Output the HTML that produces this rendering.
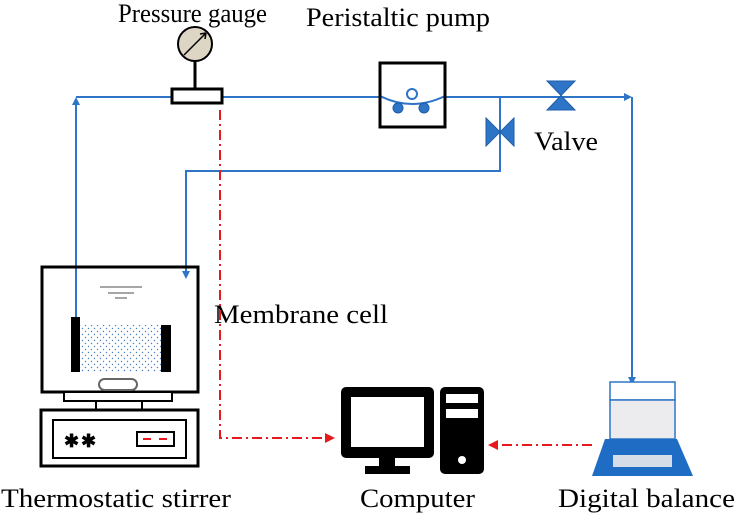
<!DOCTYPE html><html><head><style>body{margin:0;background:#fff}svg{display:block}text{font-family:"Liberation Serif",serif;fill:#000}</style></head><body>
<svg width="738" height="522" viewBox="0 0 738 522" xmlns="http://www.w3.org/2000/svg">
<defs>
<marker id="ab" markerWidth="8" markerHeight="8" refX="6" refY="4" orient="auto" markerUnits="userSpaceOnUse"><path d="M0,0L8,4L0,8z" fill="#2e75c7"/></marker>
<marker id="ar" markerWidth="10" markerHeight="10" refX="8" refY="5" orient="auto" markerUnits="userSpaceOnUse"><path d="M0,0L10,5L0,10z" fill="#e8191c"/></marker>
<pattern id="dots" width="6" height="6" patternUnits="userSpaceOnUse"><circle cx="1.5" cy="1.5" r="0.7" fill="#4a7cc0"/><circle cx="4.5" cy="4.5" r="0.7" fill="#4a7cc0"/></pattern>
</defs>
<text x="118" y="22" font-size="26" textLength="149" lengthAdjust="spacingAndGlyphs">Pressure gauge</text>
<text x="306" y="26" font-size="26" textLength="184" lengthAdjust="spacingAndGlyphs">Peristaltic pump</text>
<text x="534" y="150" font-size="26" textLength="64" lengthAdjust="spacingAndGlyphs">Valve</text>
<text x="214" y="323" font-size="26" textLength="174" lengthAdjust="spacingAndGlyphs">Membrane cell</text>
<text x="1" y="507" font-size="26" textLength="230" lengthAdjust="spacingAndGlyphs">Thermostatic stirrer</text>
<text x="360" y="507" font-size="26" textLength="115" lengthAdjust="spacingAndGlyphs">Computer</text>
<text x="558" y="507" font-size="26" textLength="177" lengthAdjust="spacingAndGlyphs">Digital balance</text>
<g stroke="#2e75c7" stroke-width="2" fill="none">
<path d="M76 318V99" marker-end="url(#ab)"/>
<path d="M76 97H380M445 97H630" marker-end="url(#ab)"/>
<path d="M632 97V383" marker-end="url(#ab)"/>
<path d="M500 97V171H186V277" marker-end="url(#ab)"/>
<path d="M380 96Q412 112 445 96"/>
</g>
<g fill="#2e75c7" stroke="#1d5da8" stroke-width="1">
<path d="M547 81H575L547 110H575Z"/>
<path d="M486 118V146L514 118V146Z"/>
<circle cx="398" cy="108" r="5"/><circle cx="424" cy="108" r="5"/>
</g>
<circle cx="412" cy="94" r="5" fill="#fff" stroke="#2e75c7" stroke-width="2"/>
<rect x="380" y="63" width="65" height="64" fill="none" stroke="#000" stroke-width="3"/>
<line x1="195" y1="60" x2="195" y2="88" stroke="#000" stroke-width="3"/>
<circle cx="195" cy="44" r="17" fill="#ddd6c4" stroke="#000" stroke-width="2"/>
<path d="M184 55L206 33M206 33l-6 1M206 33l-1 6" stroke="#000" stroke-width="1.5" fill="none"/>
<rect x="172" y="89" width="50" height="14" fill="#fff" stroke="#000" stroke-width="3"/>
<g stroke="#e8191c" stroke-width="2" fill="none" stroke-dasharray="10 4 2 4">
<path d="M220 110V438H333" marker-end="url(#ar)"/>
<path d="M592 445H490" marker-end="url(#ar)"/>
</g>
<rect x="42" y="267" width="156" height="125" fill="none" stroke="#000" stroke-width="3"/>
<g stroke="#888" stroke-width="1.5"><line x1="100" y1="287" x2="142" y2="287"/><line x1="108" y1="293" x2="134" y2="293"/><line x1="115" y1="298" x2="127" y2="298"/></g>
<rect x="79" y="325" width="84" height="47" fill="url(#dots)"/>
<rect x="71" y="317" width="9" height="55" fill="#000"/>
<rect x="161" y="325" width="10" height="47" fill="#000"/>
<rect x="99" y="379" width="38" height="11" rx="5.5" fill="#fff" stroke="#666" stroke-width="2"/>
<rect x="64" y="392" width="108" height="9" fill="#fff" stroke="#000" stroke-width="2"/>
<rect x="96" y="401" width="46" height="9" fill="#fff" stroke="#000" stroke-width="2"/>
<rect x="41" y="410" width="157" height="56" fill="#fff" stroke="#000" stroke-width="3"/>
<rect x="53" y="420" width="133" height="38" fill="none" stroke="#000" stroke-width="2"/>
<text x="64" y="447" font-size="18" font-weight="bold">✱</text><text x="81" y="447" font-size="18" font-weight="bold">✱</text>
<rect x="137" y="432" width="37" height="14" fill="none" stroke="#000" stroke-width="2"/>
<path d="M143 439h8M159 439h8" stroke="#e8191c" stroke-width="2"/>
<rect x="341" y="387" width="93" height="71" rx="5" fill="#000"/>
<rect x="351" y="397" width="73" height="50" fill="#fff"/>
<rect x="379" y="458" width="16" height="8" fill="#000"/>
<rect x="365" y="466" width="45" height="8" fill="#000"/>
<rect x="440" y="387" width="44" height="87" rx="5" fill="#000"/>
<rect x="446" y="394" width="32" height="9" fill="#fff"/>
<rect x="446" y="409" width="32" height="9" fill="#fff"/>
<circle cx="462" cy="460" r="4" fill="#fff"/>
<rect x="610" y="382" width="65" height="18" fill="#fff" stroke="#2e75c7" stroke-width="1.5"/>
<rect x="610" y="400" width="65" height="39" fill="#ececef" stroke="#2e75c7" stroke-width="1.5"/>
<path d="M605 439H677L693 476H592Z" fill="#1f6cc4"/>
<rect x="613" y="455" width="59" height="12" fill="#d5dde8"/>
</svg></body></html>
